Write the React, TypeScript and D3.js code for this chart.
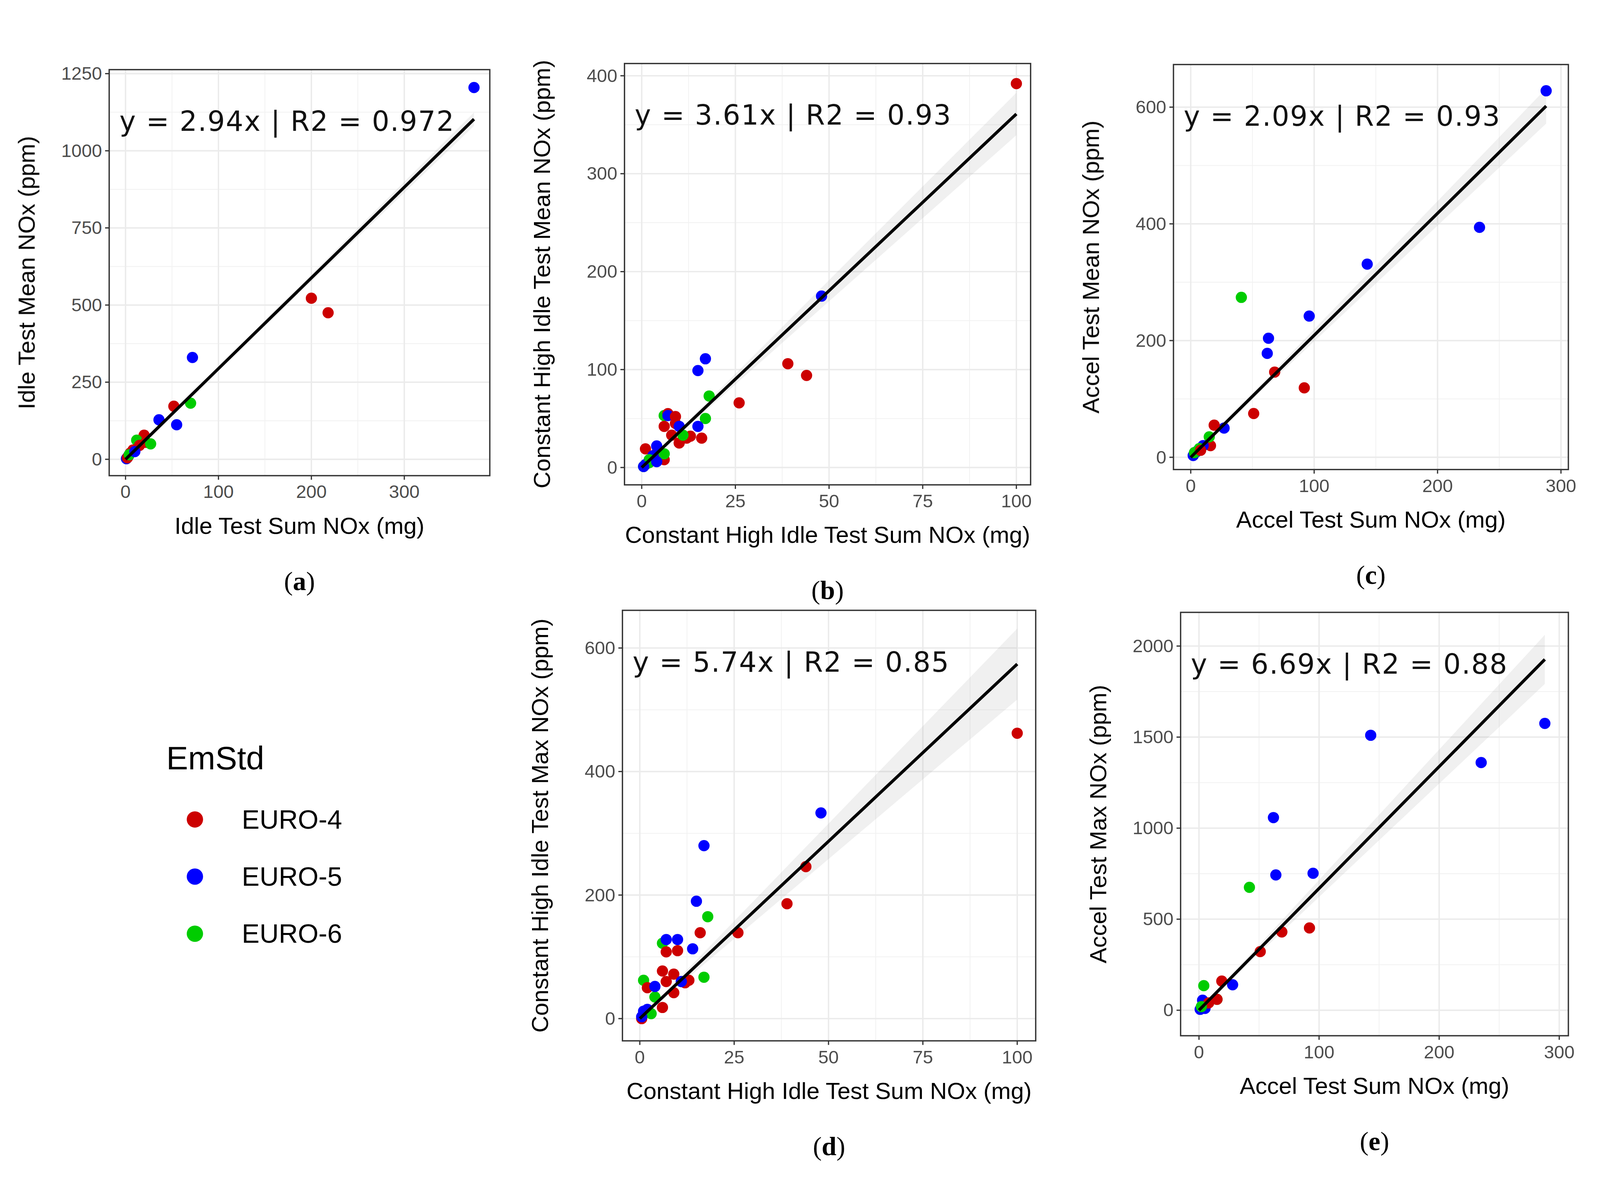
import React from "react";
import * as d3 from "d3";

type Pt = [number, number, number]; // x, y, group index

const groups = ["EURO-4", "EURO-5", "EURO-6"];
const groupColors = ["#cc0000", "#0000ff", "#00cc00"];

const idleMean: Pt[] = [
  [375, 1205, 1], [200, 522, 0], [218, 475, 0], [72, 330, 1], [36, 128, 1], [55, 112, 1],
  [52, 172, 0], [70, 182, 2], [20, 78, 0], [12, 62, 2], [15, 45, 0], [22, 55, 0], [27, 50, 2],
  [8, 30, 0], [5, 20, 0], [3, 10, 1], [1, 2, 1], [2, 5, 0], [4, 15, 2], [10, 25, 1],
];
const highIdleMean: Pt[] = [
  [100, 392, 0], [48, 175, 1], [39, 106, 0], [44, 94, 0], [26, 66, 0], [17, 111, 1], [15, 99, 1],
  [18, 73, 2], [17, 50, 2], [15, 42, 1], [16, 30, 0], [6, 53, 2], [7, 55, 0], [7, 53, 1], [9, 52, 0],
  [9, 45, 0], [6, 42, 0], [8, 33, 0], [10, 25, 0], [12, 30, 0], [13, 32, 0], [10, 42, 1],
  [11, 33, 2], [1, 19, 0], [4, 15, 0], [6, 8, 0], [4, 22, 1], [3, 12, 1], [6, 14, 2], [2, 8, 2],
  [1, 3, 1], [0.5, 1, 2], [2, 5, 2], [4, 6, 1], [0.5, 1, 1],
];
const accelMean: Pt[] = [
  [288, 628, 1], [234, 394, 1], [143, 331, 1], [96, 242, 1], [63, 204, 1], [62, 178, 1], [27, 50, 1],
  [41, 274, 2], [68, 146, 0], [92, 119, 0], [51, 75, 0], [19, 55, 0], [16, 20, 0], [15, 35, 2],
  [10, 20, 1], [5, 10, 1], [2, 3, 1], [3, 8, 2], [7, 15, 2], [8, 12, 0],
];
const highIdleMax: Pt[] = [
  [100, 462, 0], [44, 246, 0], [39, 186, 0], [26, 139, 0], [16, 139, 0], [48, 333, 1], [17, 280, 1],
  [15, 190, 1], [14, 113, 1], [18, 165, 2], [17, 67, 2], [6, 122, 2], [7, 128, 1], [10, 128, 1],
  [1, 62, 2], [4, 35, 2], [11, 60, 2], [7, 108, 0], [10, 110, 0], [6, 77, 0], [9, 72, 0], [7, 60, 0],
  [9, 42, 0], [12, 58, 0], [13, 62, 0], [2, 50, 0], [6, 18, 0], [4, 52, 1], [11, 60, 1], [1, 12, 1],
  [2, 15, 1], [3, 8, 2], [0.5, 0, 0], [0.5, 3, 1],
];
const accelMax: Pt[] = [
  [288, 1575, 1], [235, 1360, 1], [143, 1510, 1], [62, 1058, 1], [64, 743, 1], [95, 752, 1],
  [28, 140, 1], [3, 55, 1], [5, 10, 1], [42, 675, 2], [4, 135, 2], [15, 60, 2], [92, 452, 0],
  [69, 430, 0], [51, 322, 0], [19, 160, 0], [15, 60, 0], [8, 40, 0], [1, 5, 1], [2, 20, 2],
];

interface Panel {
  data: Pt[];
  slope: number;
  label: string;
  eq: string;
  xTitle: string;
  yTitle: string;
  xDomain: [number, number];
  yDomain: [number, number];
  xTicks: number[];
  yTicks: number[];
  box: [number, number, number, number]; // left, top, right, bottom
  band: number;
}

const panels: Panel[] = [
  { data: idleMean, slope: 2.94, label: "a", eq: "y = 2.94x | R2 = 0.972",
    xTitle: "Idle Test Sum NOx (mg)", yTitle: "Idle Test Mean NOx (ppm)",
    xDomain: [-17.6, 392], yDomain: [-53, 1263], xTicks: [0, 100, 200, 300], yTicks: [0, 250, 500, 750, 1000, 1250],
    box: [107, 38, 480, 436], band: 0.02 },
  { data: highIdleMean, slope: 3.61, label: "b", eq: "y = 3.61x | R2 = 0.93",
    xTitle: "Constant High Idle Test Sum NOx (mg)", yTitle: "Constant High Idle Test Mean NOx (ppm)",
    xDomain: [-4.6, 103.8], yDomain: [-17.7, 412.5], xTicks: [0, 25, 50, 75, 100], yTicks: [0, 100, 200, 300, 400],
    box: [612, 32, 1010, 445], band: 0.06 },
  { data: accelMean, slope: 2.09, label: "c", eq: "y = 2.09x | R2 = 0.93",
    xTitle: "Accel Test Sum NOx (mg)", yTitle: "Accel Test Mean NOx (ppm)",
    xDomain: [-14, 306], yDomain: [-21, 673], xTicks: [0, 100, 200, 300], yTicks: [0, 200, 400, 600],
    box: [1150, 33, 1537, 430], band: 0.05 },
  { data: highIdleMax, slope: 5.74, label: "d", eq: "y = 5.74x | R2 = 0.85",
    xTitle: "Constant High Idle Test Sum NOx (mg)", yTitle: "Constant High Idle Test Max NOx (ppm)",
    xDomain: [-4.6, 104.9], yDomain: [-36, 661], xTicks: [0, 25, 50, 75, 100], yTicks: [0, 200, 400, 600],
    box: [610, 568, 1015, 990], band: 0.1 },
  { data: accelMax, slope: 6.69, label: "e", eq: "y = 6.69x | R2 = 0.88",
    xTitle: "Accel Test Sum NOx (mg)", yTitle: "Accel Test Max NOx (ppm)",
    xDomain: [-15.3, 307.6], yDomain: [-140, 2185], xTicks: [0, 100, 200, 300], yTicks: [0, 500, 1000, 1500, 2000],
    box: [1157, 570, 1537, 985], band: 0.07 },
];

const sans = "'Liberation Sans', Arial, sans-serif";

function PanelView({ p }: { p: Panel }) {
  const [l, t, r, b] = p.box;
  const x = d3.scaleLinear().domain(p.xDomain).range([l, r]);
  const y = d3.scaleLinear().domain(p.yDomain).range([b, t]);
  const xMax = d3.max(p.data, (d) => d[0]) ?? 0;
  const xs = d3.range(0, 21).map((i) => (xMax * i) / 20);
  const area = d3
    .area<number>()
    .x((v) => x(v))
    .y0((v) => y(p.slope * v * (1 - p.band)))
    .y1((v) => y(p.slope * v * (1 + p.band)));
  const line = d3.line<number>().x((v) => x(v)).y((v) => y(p.slope * v));
  const xMinor = p.xTicks.slice(0, -1).map((v, i) => (v + p.xTicks[i + 1]) / 2);
  const yMinor = p.yTicks.slice(0, -1).map((v, i) => (v + p.yTicks[i + 1]) / 2);
  const cx = (l + r) / 2;
  const cy = (t + b) / 2;
  return (
    <g>
      <rect x={l} y={t} width={r - l} height={b - t} fill="#fff" />
      {xMinor.map((v) => <line key={"xm" + v} x1={x(v)} x2={x(v)} y1={t} y2={b} stroke="#f2f2f2" strokeWidth={0.8} />)}
      {yMinor.map((v) => <line key={"ym" + v} x1={l} x2={r} y1={y(v)} y2={y(v)} stroke="#f2f2f2" strokeWidth={0.8} />)}
      {p.xTicks.map((v) => <line key={"x" + v} x1={x(v)} x2={x(v)} y1={t} y2={b} stroke="#ebebeb" strokeWidth={1.4} />)}
      {p.yTicks.map((v) => <line key={"y" + v} x1={l} x2={r} y1={y(v)} y2={y(v)} stroke="#ebebeb" strokeWidth={1.4} />)}
      <path d={area(xs) ?? ""} fill="#999" fillOpacity={0.15} />
      {p.data.map((d, i) => (
        <circle key={i} cx={x(d[0])} cy={y(d[1])} r={5.5} fill={groupColors[d[2]]} />
      ))}
      <path d={line([0, xMax]) ?? ""} stroke="#000" strokeWidth={3} fill="none" />
      <rect x={l} y={t} width={r - l} height={b - t} fill="none" stroke="#333" strokeWidth={1.3} />
      {p.xTicks.map((v) => (
        <g key={"xt" + v}>
          <line x1={x(v)} x2={x(v)} y1={b} y2={b + 4} stroke="#333" strokeWidth={1.2} />
          <text x={x(v)} y={b + 22} fontSize={18} fill="#4d4d4d" textAnchor="middle" fontFamily={sans}>{v}</text>
        </g>
      ))}
      {p.yTicks.map((v) => (
        <g key={"yt" + v}>
          <line x1={l - 4} x2={l} y1={y(v)} y2={y(v)} stroke="#333" strokeWidth={1.2} />
          <text x={l - 7} y={y(v) + 6} fontSize={18} fill="#4d4d4d" textAnchor="end" fontFamily={sans}>{v}</text>
        </g>
      ))}
      <text x={cx} y={b + 57} fontSize={23} textAnchor="middle" fontFamily={sans}>{p.xTitle}</text>
      <text transform={`translate(${l - 73},${cy}) rotate(-90)`} fontSize={23} textAnchor="middle" fontFamily={sans}>{p.yTitle}</text>
      <text x={l + 10} y={t + 60} fontSize={27} letterSpacing={0.8} fontFamily="'DejaVu Sans', sans-serif" fill="#111">{p.eq}</text>
      <text x={cx} y={b + 112} fontSize={26} textAnchor="middle" fontFamily="'Liberation Serif', serif">
        (<tspan fontWeight="bold">{p.label}</tspan>)
      </text>
    </g>
  );
}

export default function App() {
  return (
    <svg
      viewBox="0 0 1568 1104"
      preserveAspectRatio="xMidYMid meet"
      style={{ position: "fixed", left: 0, top: 0, width: "100vw", height: "100vh", display: "block" }}
    >
      <rect width={1568} height={1104} fill="#fff" />
      {panels.map((p) => <PanelView key={p.label} p={p} />)}
      <text x={163} y={724} fontSize={32} fontFamily={sans}>EmStd</text>
      {groups.map((g, i) => (
        <g key={g}>
          <circle cx={191} cy={773 + i * 56} r={8} fill={groupColors[i]} />
          <text x={237} y={782 + i * 56} fontSize={26} fontFamily={sans}>{g}</text>
        </g>
      ))}
    </svg>
  );
}
